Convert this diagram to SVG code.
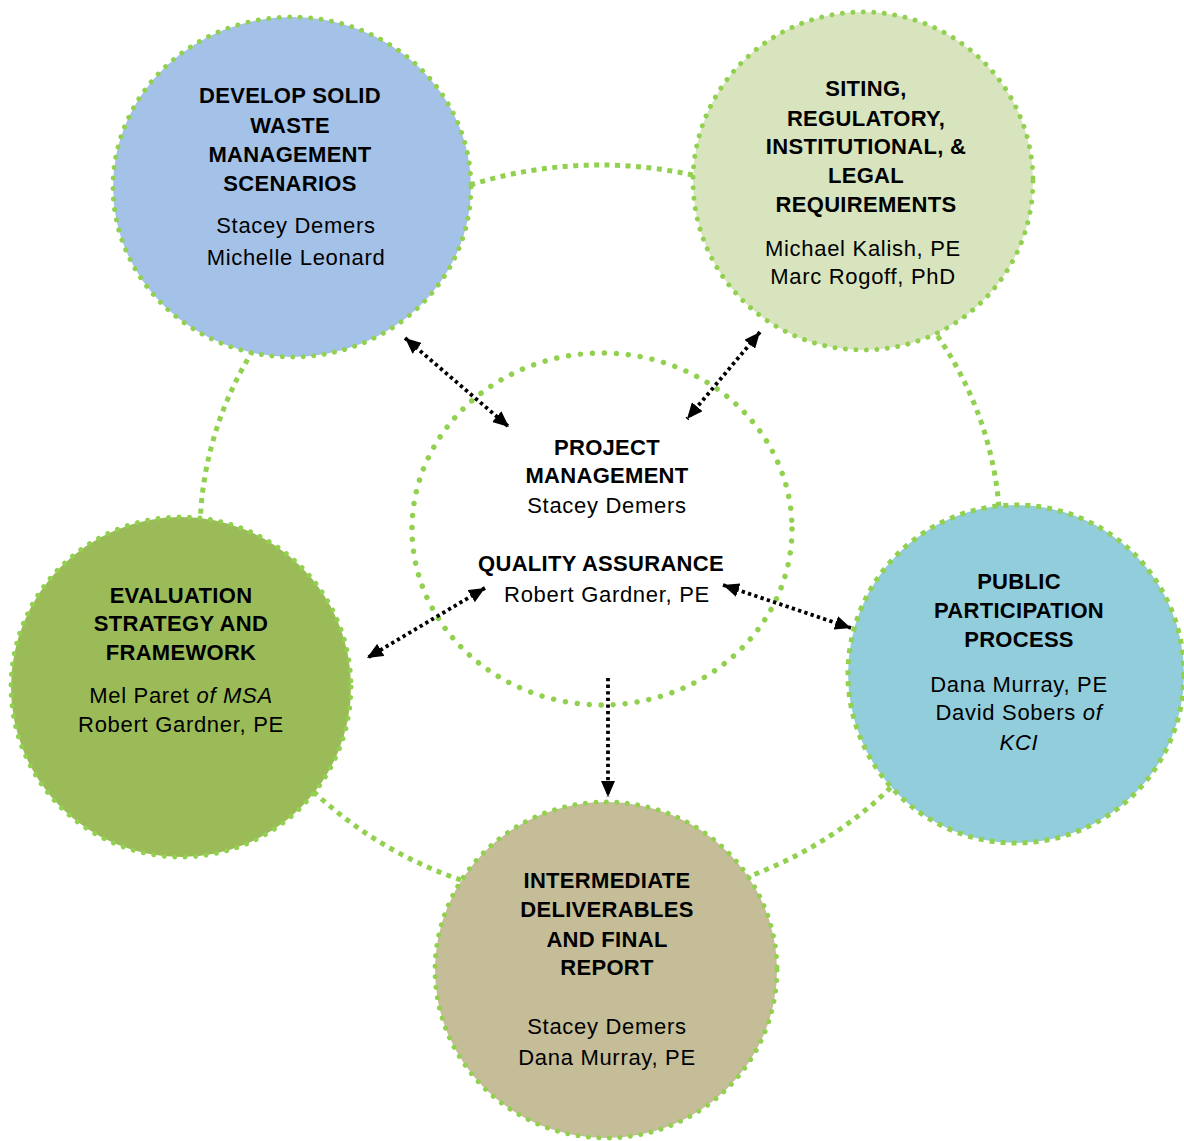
<svg xmlns="http://www.w3.org/2000/svg" width="1184" height="1141" viewBox="0 0 1184 1141">
<defs>
<style>
.ring{fill:none;stroke:#92d050;stroke-width:5;stroke-dasharray:5 5.5}
.node{stroke:#92d050;stroke-width:5;stroke-linecap:round;stroke-dasharray:0.01 10.5}
.sq{stroke:#92d050;stroke-width:5;stroke-dasharray:5 6}
.center{fill:none;stroke:#92d050;stroke-width:5.5;stroke-linecap:round;stroke-dasharray:0.01 12}
.t{font-family:"Liberation Sans",Arial,sans-serif;font-weight:bold;font-size:22px;letter-spacing:0.3px;text-anchor:middle;fill:#000}
.n{font-family:"Liberation Sans",Arial,sans-serif;font-size:22px;letter-spacing:0.7px;text-anchor:middle;fill:#000}
.i{font-style:italic}
.arr{fill:none;stroke:#000;stroke-width:3.8;stroke-dasharray:3.3 3.3}
</style>
<marker id="ah" viewBox="0 0 16 14" refX="16" refY="7" markerWidth="16" markerHeight="14" markerUnits="userSpaceOnUse" orient="auto-start-reverse">
<path d="M0,0 L16,7 L0,14 Z" fill="#000"/>
</marker>
</defs>
<rect width="1184" height="1141" fill="#fff"/>
<g id="outer-ring">
<ellipse class="ring" cx="600" cy="534" rx="400" ry="369"/>
</g>
<g id="node-scenarios">
<ellipse class="node" cx="292" cy="187" rx="179" ry="170" fill="#a4c2e8"/>
<text class="t" x="290" y="103">DEVELOP SOLID</text>
<text class="t" x="290" y="133">WASTE</text>
<text class="t" x="290" y="162">MANAGEMENT</text>
<text class="t" x="290" y="191">SCENARIOS</text>
<text class="n" x="296" y="233">Stacey Demers</text>
<text class="n" x="296" y="265">Michelle Leonard</text>
</g>
<g id="node-siting">
<ellipse class="node" cx="863" cy="181" rx="170" ry="169" fill="#d7e4bd"/>
<text class="t" x="866" y="96">SITING,</text>
<text class="t" x="866" y="126">REGULATORY,</text>
<text class="t" x="866" y="154">INSTITUTIONAL, &amp;</text>
<text class="t" x="866" y="183">LEGAL</text>
<text class="t" x="866" y="212">REQUIREMENTS</text>
<text class="n" x="863" y="256">Michael Kalish, PE</text>
<text class="n" x="863" y="284">Marc Rogoff, PhD</text>
</g>
<g id="node-evaluation">
<ellipse class="node" cx="181" cy="687" rx="170" ry="170" fill="#9bbb59"/>
<text class="t" x="181" y="603">EVALUATION</text>
<text class="t" x="181" y="631">STRATEGY AND</text>
<text class="t" x="181" y="660">FRAMEWORK</text>
<text class="n" x="181" y="703">Mel Paret <tspan class="i">of MSA</tspan></text>
<text class="n" x="181" y="732">Robert Gardner, PE</text>
</g>
<g id="node-public">
<ellipse class="sq" cx="1016" cy="674" rx="168" ry="169" fill="#92cddc"/>
<text class="t" x="1019" y="589">PUBLIC</text>
<text class="t" x="1019" y="618">PARTICIPATION</text>
<text class="t" x="1019" y="647">PROCESS</text>
<text class="n" x="1019" y="692">Dana Murray, PE</text>
<text class="n" x="1019" y="720">David Sobers <tspan class="i">of</tspan></text>
<text class="n i" x="1019" y="750">KCI</text>
</g>
<g id="node-deliverables">
<ellipse class="node" cx="606" cy="970" rx="171" ry="168" fill="#c4bd97"/>
<text class="t" x="607" y="888">INTERMEDIATE</text>
<text class="t" x="607" y="917">DELIVERABLES</text>
<text class="t" x="607" y="947">AND FINAL</text>
<text class="t" x="607" y="975">REPORT</text>
<text class="n" x="607" y="1034">Stacey Demers</text>
<text class="n" x="607" y="1065">Dana Murray, PE</text>
</g>
<g id="node-center">
<ellipse class="center" cx="602" cy="529" rx="190" ry="176"/>
<text class="t" x="607" y="455">PROJECT</text>
<text class="t" x="607" y="483">MANAGEMENT</text>
<text class="n" x="607" y="513">Stacey Demers</text>
<text class="t" x="601" y="571">QUALITY ASSURANCE</text>
<text class="n" x="607" y="602">Robert Gardner, PE</text>
</g>
<g id="connectors">
<line class="arr" x1="405" y1="338" x2="509" y2="427" marker-start="url(#ah)" marker-end="url(#ah)"/>
<line class="arr" x1="760" y1="332" x2="687" y2="419" marker-start="url(#ah)" marker-end="url(#ah)"/>
<line class="arr" x1="485" y1="588" x2="367" y2="658" marker-start="url(#ah)" marker-end="url(#ah)"/>
<line class="arr" x1="723" y1="585" x2="851" y2="628" marker-start="url(#ah)" marker-end="url(#ah)"/>
<line class="arr" x1="608" y1="678" x2="608" y2="797" marker-end="url(#ah)"/>
</g>
</svg>
